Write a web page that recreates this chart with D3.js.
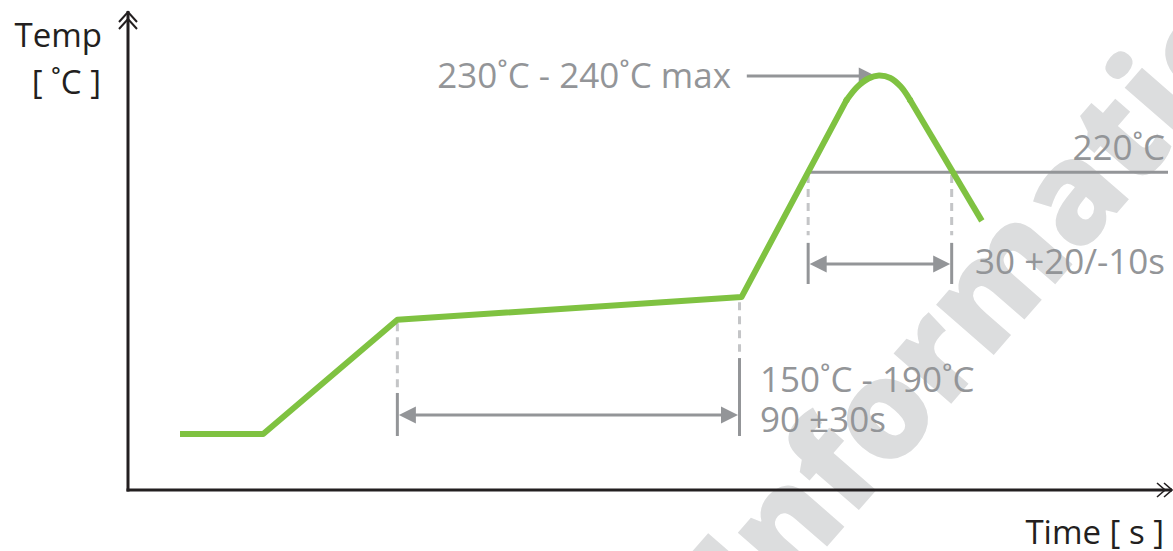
<!DOCTYPE html>
<html>
<head>
<meta charset="utf-8">
<script src="https://cdn.jsdelivr.net/npm/d3@7"></script>
<style>
  html, body { margin: 0; padding: 0; background: #ffffff; }
  svg { display: block; }
  text { font-family: "Open Sans", "Noto Sans", sans-serif; }
</style>
</head>
<body>
<svg id="chart" width="1173" height="551"></svg>
<script>
// ---------- data (schematic units: time 0-100, temperature 0-100) ----------
const profileTime = [5.0, 13.0, 25.9, 59.0, 69.1, 70.1, 71.2, 72.2, 73.3, 74.3, 75.2, 82.1];
const profileTemp = [11.7, 11.7, 35.6, 40.4, 81.6, 84.3, 86.1, 86.7, 86.2, 84.4, 81.6, 56.3];
const peakStartIdx = 4, peakEndIdx = 10;   // rounded part of the profile

const level220 = 66.5;          // 220˚C reference level
const peakLevel = 86.6;         // peak temperature arrow level
const peakArrowFrom = 59.5, peakArrowTo = 71.9;

const soakStart = 25.9, soakEnd = 58.8, soakArrowLevel = 15.7;
const talStart = 65.4, talEnd = 79.2, talArrowLevel = 47.3;

const labels = {
  peak: "230˚C - 240˚C max",
  level: "220˚C",
  tal: "30 +20/-10s",
  soak1: "150˚C - 190˚C",
  soak2: "90 ±30s",
  yTitle1: "Temp",
  yTitle2: "[ ˚C ]",
  xTitle: "Time [ s ]",
  watermark: "Information"
};

// ---------- setup ----------
const W = 1173, H = 551;
const svg = d3.select("#chart");
const x = d3.scaleLinear().domain([0, 100]).range([128, 1168]);
const y = d3.scaleLinear().domain([0, 100]).range([490, 12]);

const GREEN = "#7fc241", GREY = "#939598", LIGHT = "#c4c5c7", DARK = "#231f20";

// ---------- watermark ----------
svg.append("text")
  .attr("transform", "translate(758,626) rotate(-49)")
  .attr("font-size", 138)
  .attr("font-weight", 800)
  .attr("fill", "#dcddde")
  .text(labels.watermark);

// ---------- axes ----------
const axisG = svg.append("g");
axisG.append("line")
  .attr("x1", x(0)).attr("x2", x(0)).attr("y1", y(0) + 1.5).attr("y2", y(100) - 1)
  .attr("stroke", DARK).attr("stroke-width", 3);
axisG.append("line")
  .attr("x1", x(0) - 1.5).attr("x2", x(100) + 4).attr("y1", y(0)).attr("y2", y(0))
  .attr("stroke", DARK).attr("stroke-width", 3);

// double chevrons
[0, 7].forEach(o => {
  axisG.append("path")
    .attr("d", `M${x(0) - 9},${y(100) + 10 + o} L${x(0)},${y(100) + o} L${x(0) + 9},${y(100) + 10 + o}`)
    .attr("fill", "none").attr("stroke", DARK).attr("stroke-width", 2);
  axisG.append("path")
    .attr("d", `M${x(100) - 4 - o},${y(0) - 7} L${x(100) + 4 - o},${y(0)} L${x(100) - 4 - o},${y(0) + 7}`)
    .attr("fill", "none").attr("stroke", DARK).attr("stroke-width", 1.6);
});

// axis titles
svg.append("text").attr("x", 102).attr("y", 47).attr("text-anchor", "end")
  .attr("font-size", 33).attr("fill", DARK).text(labels.yTitle1);
svg.append("text").attr("x", 101).attr("y", 94).attr("text-anchor", "end")
  .attr("font-size", 33).attr("fill", DARK).text(labels.yTitle2);
svg.append("text").attr("x", 1164).attr("y", 544).attr("text-anchor", "end")
  .attr("font-size", 33).attr("fill", DARK).text(labels.xTitle);

// ---------- annotations ----------
const ann = svg.append("g");

function arrowHead(g, tipX, tipY, dir) {
  const L = 17, Hh = 8.5;
  g.append("path")
    .attr("d", `M${tipX},${tipY} L${tipX - dir * L},${tipY - Hh} L${tipX - dir * L},${tipY + Hh} Z`)
    .attr("fill", GREY);
}

// 220 level line
ann.append("line")
  .attr("x1", x(talStart)).attr("x2", x(100)).attr("y1", y(level220)).attr("y2", y(level220))
  .attr("stroke", GREY).attr("stroke-width", 3);

// dashed + solid extension lines
function extension(xv, dashTop, dashBottom, solidTop, solidBottom) {
  ann.append("line")
    .attr("x1", x(xv)).attr("x2", x(xv)).attr("y1", y(dashTop)).attr("y2", y(dashBottom))
    .attr("stroke", LIGHT).attr("stroke-width", 3).attr("stroke-dasharray", "8,6");
  ann.append("line")
    .attr("x1", x(xv)).attr("x2", x(xv)).attr("y1", y(solidTop)).attr("y2", y(solidBottom))
    .attr("stroke", GREY).attr("stroke-width", 3);
}
extension(soakStart, 34.9, 21.3, 20.3, 11.3);
extension(soakEnd, 39.3, 28.9, 27.6, 11.3);
extension(talStart, 65.9, 53.3, 51.7, 43.1);
extension(talEnd, 65.9, 53.3, 51.7, 43.1);

// dimension arrows
function dimArrow(x1v, x2v, lv) {
  ann.append("line")
    .attr("x1", x(x1v) + 8).attr("x2", x(x2v) - 8).attr("y1", y(lv)).attr("y2", y(lv))
    .attr("stroke", GREY).attr("stroke-width", 3);
  arrowHead(ann, x(x1v) + 1.5, y(lv), -1);
  arrowHead(ann, x(x2v) - 1.5, y(lv), 1);
}
dimArrow(soakStart, soakEnd, soakArrowLevel);
dimArrow(talStart, talEnd, talArrowLevel);

// peak arrow
ann.append("line")
  .attr("x1", x(peakArrowFrom)).attr("x2", x(peakArrowTo) - 10).attr("y1", y(peakLevel)).attr("y2", y(peakLevel))
  .attr("stroke", GREY).attr("stroke-width", 3);
arrowHead(ann, x(peakArrowTo), y(peakLevel), 1);

// texts
const tStyle = s => s.attr("font-size", 35).attr("fill", GREY);
ann.append("text").attr("x", 731).attr("y", 88).attr("text-anchor", "end").call(tStyle).text(labels.peak);
ann.append("text").attr("x", 1165).attr("y", 160).attr("text-anchor", "end").call(tStyle).text(labels.level);
ann.append("text").attr("x", 1165).attr("y", 274).attr("text-anchor", "end").call(tStyle).text(labels.tal);
ann.append("text").attr("x", 760).attr("y", 392).call(tStyle).text(labels.soak1);
ann.append("text").attr("x", 760).attr("y", 432).call(tStyle).text(labels.soak2);

// ---------- profile ----------
const profile = profileTime.map((t, i) => [t, profileTemp[i]]);
const lin = d3.line().x(d => x(d[0])).y(d => y(d[1])).curve(d3.curveLinear);
const smooth = d3.line().x(d => x(d[0])).y(d => y(d[1])).curve(d3.curveCatmullRom.alpha(0.5));
const parts = [
  [lin, profile.slice(0, peakStartIdx + 1)],
  [smooth, profile.slice(peakStartIdx, peakEndIdx + 1)],
  [lin, profile.slice(peakEndIdx)]
];
const prof = svg.append("g");
parts.forEach(([gen, pts], i) => {
  prof.append("path")
    .datum(pts)
    .attr("d", gen)
    .attr("fill", "none")
    .attr("stroke", GREEN)
    .attr("stroke-width", 6)
    .attr("stroke-linejoin", "round")
    .attr("stroke-linecap", i === 0 || i === 2 ? "butt" : "round");
});
// round the internal joins
prof.selectAll("circle")
  .data([profile[peakStartIdx], profile[peakEndIdx]])
  .join("circle")
  .attr("cx", d => x(d[0])).attr("cy", d => y(d[1])).attr("r", 3).attr("fill", GREEN);
</script>
</body>
</html>
